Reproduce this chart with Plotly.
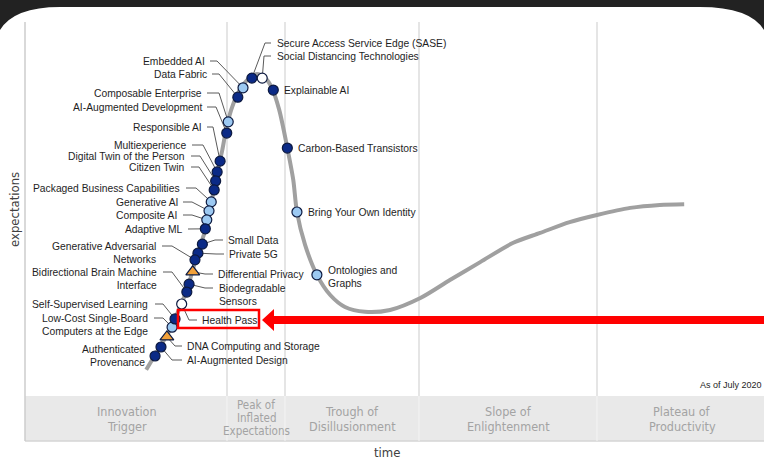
import plotly.graph_objects as go

# ---------------- data ----------------
# hype curve (time 0-100, expectations 0-100)
curve_time = [16.4, 18.0, 19.6, 20.8, 21.9, 22.7, 23.5, 24.4, 24.9, 25.6, 26.1, 26.7, 27.2, 27.9,
              28.7, 29.5, 30.6, 31.4, 32.5, 33.4, 34.4, 35.5, 36.3, 36.8, 37.9, 39.5, 41.3, 43.3,
              46.0, 49.4, 53.5, 57.5, 61.6, 66.0, 69.7, 73.7, 77.4, 81.9, 85.9, 89.2]
curve_expect = [7.0, 12.3, 17.6, 23.0, 28.3, 33.7, 39.0, 44.4, 49.7, 55.1, 60.4, 65.8, 71.1, 76.5,
                80.5, 83.2, 85.3, 86.1, 85.0, 82.4, 76.5, 66.3, 57.8, 49.2, 40.4, 32.4, 27.0, 23.8,
                22.5, 23.0, 26.2, 31.0, 35.8, 40.9, 43.6, 46.5, 48.4, 50.3, 51.1, 51.3]

tech_names = [
    "Secure Access Service Edge (SASE)", "Social Distancing Technologies", "Explainable AI",
    "Carbon-Based Transistors", "Bring Your Own Identity", "Ontologies and Graphs",
    "Embedded AI", "Data Fabric", "Composable Enterprise", "AI-Augmented Development",
    "Responsible AI", "Multiexperience", "Digital Twin of the Person", "Citizen Twin",
    "Packaged Business Capabilities", "Generative AI", "Composite AI", "Adaptive ML",
    "Small Data", "Private 5G", "Generative Adversarial Networks", "Differential Privacy",
    "Biodegradable Sensors", "Bidirectional Brain Machine Interface", "Health Pass",
    "Self-Supervised Learning", "Low-Cost Single-Board Computers at the Edge",
    "DNA Computing and Storage", "AI-Augmented Design", "Authenticated Provenance",
]
tech_time = [30.7, 32.1, 33.6, 35.5, 36.8, 39.5,
             29.5, 28.8, 27.5, 27.3, 26.4, 26.0, 25.8, 25.6, 25.2, 24.9, 24.6, 24.4,
             24.0, 23.4, 23.0, 22.7, 22.2, 21.9, 21.2, 20.3, 19.9, 19.2, 18.4, 17.6]
tech_expect = [85.0, 85.0, 81.8, 66.3, 49.2, 32.4,
               82.4, 79.9, 73.3, 70.3, 62.8, 59.9, 57.5, 55.1, 51.9, 49.5, 47.1, 44.7,
               40.6, 38.2, 36.4, 33.2, 29.9, 27.8, 24.6, 20.6, 18.4, 15.8, 13.1, 10.7]
# years to plateau class
tech_class = ["5-10", "<2", "5-10", "5-10", "2-5", "2-5",
              "2-5", "5-10", "2-5", "5-10", "5-10", "5-10", "5-10", "5-10", "2-5", "2-5", "2-5", "5-10",
              "5-10", "5-10", "5-10", ">10", "5-10", "5-10", "<2", "5-10", "2-5", ">10", "5-10", "5-10"]

phase_labels = [["Innovation", "Trigger"], ["Peak of", "Inflated", "Expectations"],
                ["Trough of", "Disillusionment"], ["Slope of", "Enlightenment"],
                ["Plateau of", "Productivity"]]

# ---------------- layout helpers ----------------
W, H = 764, 461
X0, X1 = 25, 764      # pixel span of time axis
Y0, Y1 = 396, 22      # pixel span of expectations axis (bottom, top)

LABEL_FONT = "Liberation Sans, Arial, sans-serif"
NARROW_FONT = "Liberation Sans Narrow, DejaVu Sans Condensed, Liberation Sans, sans-serif"


def t_of(px):
    return (px - X0) / (X1 - X0) * 100


def e_of(py):
    return (Y0 - py) / (Y0 - Y1) * 100


def pxp(x):
    return x / W


def pyp(y):
    return 1 - y / H


# label placement: side, label x px, first line y px, leader start px, elbow px
label_pos = [
    ("R", 275, 43, 271, 265), ("R", 275, 56, 271, 264), ("R", 282, 90, None, None),
    ("R", 296, 148, None, None), ("R", 306, 212, None, None), ("R", 326, 270, None, None),
    ("L", 207, 61, 210, 217), ("L", 209, 74, 212, 219), ("L", 204, 93, 207, 219),
    ("L", 204, 107, 207, 216), ("L", 204, 127, 207, 213), ("L", 188, 145, 192, 203),
    ("L", 187, 156, 191, 200), ("L", 187, 167, 191, 199), ("L", 182, 188, 186, 196),
    ("L", 180, 202, 183, 192), ("L", 179, 215, 183, 192), ("L", 185, 229, 188, 196),
    ("R", 226, 240, 223, 215), ("R", 227, 254, 224, 216), ("L", 158, 246, 162, 172),
    ("R", 216, 274, 213, 205), ("R", 217, 288, 213, 205), ("L", 159, 272, 163, 172),
    ("R", 200, 320, 197, 189), ("L", 150, 304, 155, 163), ("L", 150, 318, 154, 163),
    ("R", 185, 346, 182, 175), ("R", 185, 360, 182, 172), ("L", 147, 349, None, None),
]
label_text = {
    "Ontologies and Graphs": "Ontologies and<br>Graphs",
    "Generative Adversarial Networks": "Generative Adversarial<br>Networks",
    "Biodegradable Sensors": "Biodegradable<br>Sensors",
    "Bidirectional Brain Machine Interface": "Bidirectional Brain Machine<br>Interface",
    "Low-Cost Single-Board Computers at the Edge": "Low-Cost Single-Board<br>Computers at the Edge",
    "Authenticated Provenance": "Authenticated<br>Provenance",
}
LINE_H = 13

fig = go.Figure()

# hype curve
fig.add_trace(go.Scatter(x=curve_time, y=curve_expect, mode="lines",
                         line=dict(color="#a0a0a0", width=4, shape="spline", smoothing=0.8),
                         hoverinfo="skip"))

# leaders
lx_, ly_ = [], []
annotations = []
for name, t, e, pos in zip(tech_names, tech_time, tech_expect, label_pos):
    side, lx, ly, ls, el = pos
    txt = label_text.get(name, name)
    nlines = txt.count("<br>") + 1
    yc = ly + (nlines - 1) * LINE_H / 2
    annotations.append(dict(
        x=t_of(lx), y=e_of(yc), xref="x", yref="y", text=txt, showarrow=False,
        xanchor="left" if side == "R" else "right", yanchor="middle",
        align="left" if side == "R" else "right",
        font=dict(family=LABEL_FONT, size=10.3, color="#1e1e1e")))
    if ls is not None:
        lx_ += [t_of(ls), t_of(el), t, None]
        ly_ += [e_of(ly), e_of(ly), e, None]
fig.add_trace(go.Scatter(x=lx_, y=ly_, mode="lines", line=dict(color="#5a5a5a", width=1),
                         hoverinfo="skip"))

# markers by class
styles = {
    "<2": dict(symbol="circle", color="#ffffff", size=10),
    "2-5": dict(symbol="circle", color="#9cc9f2", size=10),
    "5-10": dict(symbol="circle", color="#0b2a86", size=10),
    ">10": dict(symbol="triangle-up", color="#f2a13a", size=12),
}
for cls, st in styles.items():
    idx = [i for i, c in enumerate(tech_class) if c == cls]
    fig.add_trace(go.Scatter(
        x=[tech_time[i] for i in idx], y=[tech_expect[i] for i in idx], mode="markers",
        marker=dict(symbol=st["symbol"], color=st["color"], size=st["size"],
                    line=dict(color="#0d1a40", width=1.2)),
        text=[tech_names[i] for i in idx], hoverinfo="text"))

shapes = []
# dark frame top
path_pts = "M {},{} L {},{} L {},{} Q {},{} {},{} L {},{} Q {},{} {},{} Z".format(
    pxp(0), pyp(0), pxp(764), pyp(0), pxp(764), pyp(30), pxp(750), pyp(7), pxp(700), pyp(7),
    pxp(60), pyp(7), pxp(14), pyp(7), pxp(0), pyp(30))
shapes.append(dict(type="path", path=path_pts, xref="paper", yref="paper",
                   fillcolor="#222222", line=dict(width=0), layer="above"))
# phase band
shapes.append(dict(type="rect", xref="paper", yref="paper", x0=pxp(25), x1=pxp(764),
                   y0=pyp(441), y1=pyp(396), fillcolor="#e9e9e9", line=dict(width=0), layer="below"))
shapes.append(dict(type="line", xref="paper", yref="paper", x0=pxp(25), x1=pxp(764),
                   y0=pyp(441), y1=pyp(441), line=dict(color="#d4d4d4", width=1.5), layer="below"))
# separators
for sx in [227, 285, 419, 597]:
    shapes.append(dict(type="line", xref="paper", yref="paper", x0=pxp(sx), x1=pxp(sx),
                       y0=pyp(22), y1=pyp(396), line=dict(color="#dcdcdc", width=1.5), layer="below"))
    shapes.append(dict(type="line", xref="paper", yref="paper", x0=pxp(sx), x1=pxp(sx),
                       y0=pyp(396), y1=pyp(441), line=dict(color="#f4f4f4", width=1), layer="below"))
shapes.append(dict(type="line", xref="paper", yref="paper", x0=pxp(25), x1=pxp(25),
                   y0=pyp(22), y1=pyp(441), line=dict(color="#cccccc", width=1.5), layer="below"))
# red highlight box and arrow
shapes.append(dict(type="rect", xref="paper", yref="paper", x0=pxp(178), x1=pxp(259),
                   y0=pyp(328), y1=pyp(310), line=dict(color="#ff0000", width=2.5), layer="above"))
arrow = "M {},{} L {},{} L {},{} L {},{} L {},{} L {},{} L {},{} Z".format(
    pxp(262), pyp(320), pxp(274), pyp(309), pxp(274), pyp(316), pxp(764), pyp(316),
    pxp(764), pyp(324), pxp(274), pyp(324), pxp(274), pyp(331))
shapes.append(dict(type="path", path=arrow, xref="paper", yref="paper",
                   fillcolor="#ff0000", line=dict(width=0), layer="above"))

# phase texts (one annotation per line)
phase_x = [127, 256, 352, 508, 682]
for lines, px in zip(phase_labels, phase_x):
    if len(lines) == 3:
        ys, size = [405, 418, 431], 11.5
    else:
        ys, size = [411, 426], 12.5
    for txt, py in zip(lines, ys):
        annotations.append(dict(x=pxp(px), y=pyp(py), xref="paper", yref="paper", text=txt,
                                showarrow=False, xanchor="center", yanchor="middle",
                                font=dict(family=NARROW_FONT, size=size, color="#a3a3a3")))
annotations.append(dict(x=pxp(764), y=pyp(385), xref="paper", yref="paper", text="As of July 2020",
                        showarrow=False, xanchor="right", yanchor="middle",
                        font=dict(family=LABEL_FONT, size=9, color="#1e1e1e")))
annotations.append(dict(x=pxp(387), y=pyp(452), xref="paper", yref="paper", text="time",
                        showarrow=False, xanchor="center", yanchor="middle",
                        font=dict(family=NARROW_FONT, size=13, color="#404040")))
annotations.append(dict(x=pxp(14), y=pyp(210), xref="paper", yref="paper", text="expectations",
                        showarrow=False, xanchor="center", yanchor="middle", textangle=-90,
                        font=dict(family=NARROW_FONT, size=13, color="#404040")))

fig.update_layout(
    width=W, height=H, margin=dict(l=0, r=0, t=0, b=0),
    paper_bgcolor="#ffffff", plot_bgcolor="rgba(0,0,0,0)", showlegend=False,
    xaxis=dict(domain=[X0 / W, X1 / W], range=[0, 100], visible=False, fixedrange=True),
    yaxis=dict(domain=[1 - Y0 / H, 1 - Y1 / H], range=[0, 100], visible=False, fixedrange=True),
    shapes=shapes, annotations=annotations,
)

fig.write_html("out.html", config={"displayModeBar": False},
               post_script="document.body.style.margin='0';document.body.style.overflow='hidden';")
